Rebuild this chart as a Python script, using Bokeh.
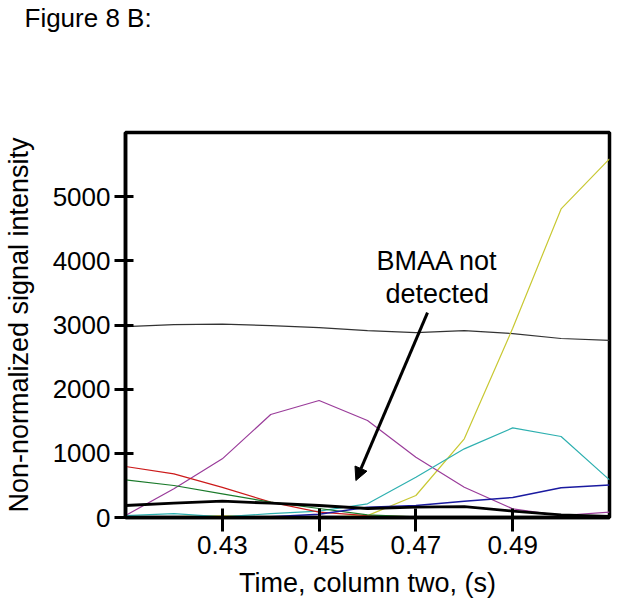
from bokeh.plotting import figure
from bokeh.models import Range1d, FixedTicker, Arrow, NormalHead, Title
from bokeh.core.properties import value
from bokeh.embed import file_html
from bokeh.resources import INLINE

# Data
time = [0.41, 0.42, 0.43, 0.44, 0.45, 0.46, 0.47, 0.48, 0.49, 0.50, 0.51]
grey = [2976, 3007, 3015, 2990, 2960, 2913, 2882, 2913, 2867, 2790, 2760]
yellow = [10, 15, 25, 10, 5, 30, 343, 1226, 2950, 4809, 5588]
purple = [31, 447, 914, 1605, 1823, 1511, 940, 472, 135, 31, 83]
cyan = [30, 60, 10, 60, 100, 213, 628, 1070, 1397, 1262, 587]
red = [795, 680, 470, 239, 83, 30, 10, 5, 5, 5, 5]
green = [587, 499, 369, 239, 140, 40, 10, 5, 5, 5, 5]
blue = [0, 0, 0, 10, 50, 161, 187, 254, 312, 462, 505]
black = [187, 223, 254, 223, 187, 140, 161, 171, 100, 42, 16]

x_ticks = [0.43, 0.45, 0.47, 0.49]
x_tick_labels = ["0.43", "0.45", "0.47", "0.49"]
y_ticks = [0, 1000, 2000, 3000, 4000, 5000]
y_tick_labels = ["0", "1000", "2000", "3000", "4000", "5000"]

FONT = "Liberation Sans"

p = figure(width=614, height=600, output_backend="svg", toolbar_location=None,
           x_range=Range1d(0.41, 0.51), y_range=Range1d(0, 6000),
           min_border_left=123, min_border_right=5, min_border_top=131,
           min_border_bottom=83)
p.background_fill_color = "white"
p.border_fill_color = "white"
p.grid.visible = False
p.outline_line_color = "black"
p.outline_line_width = 3.5

for ax in (p.xaxis[0], p.yaxis[0]):
    ax.axis_line_width = 3.5
    ax.axis_line_color = "black"
    ax.major_tick_line_width = 3
    ax.major_tick_line_color = "black"
    ax.minor_tick_line_color = None
    ax.major_label_text_font = FONT
    ax.major_label_text_font_size = "26px"
    ax.major_label_text_color = "black"
    ax.axis_label_text_font = FONT
    ax.axis_label_text_font_size = "27px"
    ax.axis_label_text_font_style = "normal"
    ax.axis_label_text_color = "black"

p.xaxis.ticker = FixedTicker(ticks=x_ticks)
p.xaxis.major_label_overrides = dict(zip(x_ticks, x_tick_labels))
p.xaxis.major_tick_in = 9
p.xaxis.major_tick_out = 14
p.xaxis.major_label_standoff = 4
p.xaxis.axis_label = "Time, column two, (s)"
p.xaxis.axis_label_standoff = 11

p.yaxis.ticker = FixedTicker(ticks=y_ticks)
p.yaxis.major_label_overrides = dict(zip(y_ticks, y_tick_labels))
p.yaxis.major_tick_in = 8
p.yaxis.major_tick_out = 11
p.yaxis.major_label_standoff = 4
p.yaxis.axis_label = "Non-normalized signal intensity"
p.yaxis.axis_label_standoff = 16

series = [
    (grey, "#333333", 1.2),
    (yellow, "#c8c832", 1.2),
    (purple, "#9a3c9a", 1.2),
    (cyan, "#2eb0b0", 1.2),
    (red, "#cc1a1a", 1.2),
    (green, "#1a7a2a", 1.2),
    (blue, "#1a1aa0", 1.5),
    (black, "#000000", 2.8),
]
for ys, col, lw in series:
    p.line(time, ys, line_color=col, line_width=lw)

p.text(x=[0.4744, 0.4744], y=[3990, 3490], text=["BMAA not", "detected"],
       text_font=value(FONT), text_font_size="27px", text_align="center",
       text_baseline="alphabetic", text_color="black")

p.add_layout(Arrow(end=NormalHead(size=13, fill_color="black", line_color="black"),
                   x_start=0.4724, y_start=3194, x_end=0.4576, y_end=576,
                   line_width=3, line_color="black"))

# spacer title next to the frame, then the real caption above it
p.add_layout(Title(text=" ", text_font_size="2px", standoff=96), "above")
p.add_layout(Title(text="Figure 8 B:", align="left", offset=-101, standoff=0,
                   text_font=FONT, text_font_size="26px", text_font_style="normal",
                   text_color="black"), "above")

open("out.html", "w").write(file_html(p, INLINE))
